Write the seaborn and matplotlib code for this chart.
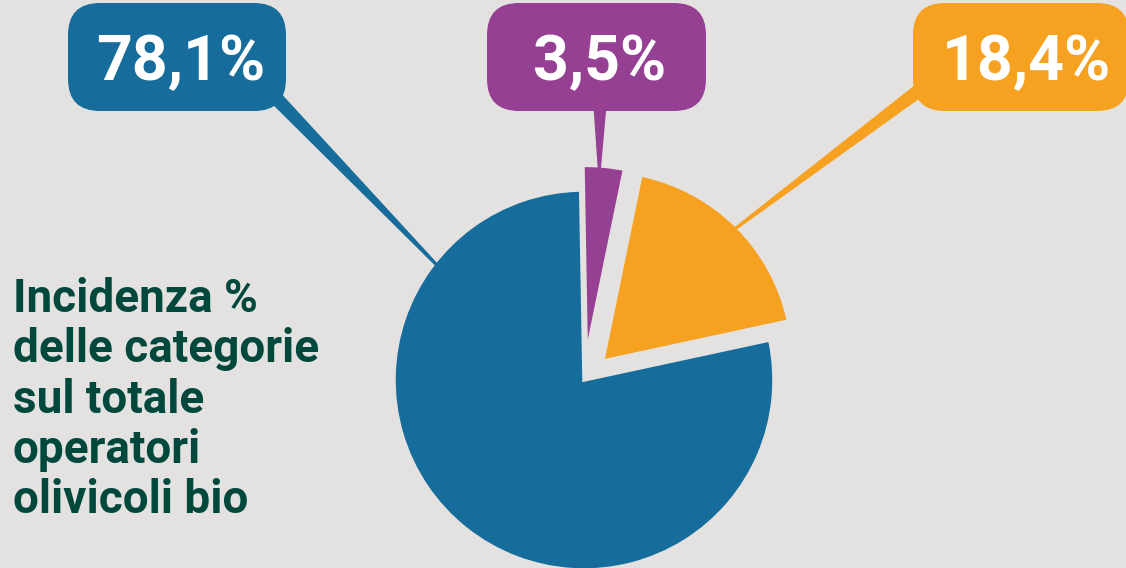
import numpy as np
import matplotlib
matplotlib.use("Agg")
import matplotlib.pyplot as plt
from matplotlib.patches import FancyBboxPatch
import seaborn as sns

# data
shares = [78.1, 18.4, 3.5]
share_labels = ["78,1%", "18,4%", "3,5%"]
slice_colors = ["#166c9b", "#f6a120", "#964094"]
title_lines = ["Incidenza %", "delle categorie", "sul totale", "operatori", "olivicoli bio"]

BG = "#e4e2e0"
GREEN = "#00483c"
W, H = 1126, 568

sns.set_theme(style="white")
plt.rcParams['font.family'] = ['Roboto', 'DejaVu Sans']

fig = plt.figure(figsize=(W / 100, H / 100), dpi=100)
fig.patch.set_facecolor(BG)
ax = fig.add_axes([0, 0, 1, 1])
ax.set_facecolor(BG)

R = 190
# explode is in data units when radius != 1
wedges, _ = ax.pie(shares, colors=slice_colors, startangle=91, counterclock=True,
                   explode=[0, 0.14 * R, 0.13 * R], radius=R, center=(584, H - 380),
                   wedgeprops=dict(linewidth=2.5, edgecolor=BG))

ax.set_xlim(0, W)
ax.set_ylim(0, H)
ax.set_aspect('equal')
ax.axis('off')

# label boxes (x0, top, width) in pixel coords from the top
boxes = [(68, 3, 218), (913, 3, 216), (487, 3, 219)]
text_x = [181, 1026, 600]
# where each pointer leaves its box and which angle on the slice it points to
bases = [(274, 96), (925, 86), (600, 100)]
tip_angles = [142, 45, 86]

for w, col, lab, (bx0, btop, bw), tx, (px, py), ang in zip(
        wedges, slice_colors, share_labels, boxes, text_x, bases, tip_angles):
    cx, cy = w.center
    r = w.r - 3
    tip = np.array([cx + r * np.cos(np.radians(ang)), cy + r * np.sin(np.radians(ang))])
    base = np.array([px, H - py])
    d = (tip - base) / np.linalg.norm(tip - base)
    n = np.array([-d[1], d[0]])
    poly = np.array([base + n * 7, tip + n * 1.6, tip - n * 1.6, base - n * 7])
    ax.fill(poly[:, 0], poly[:, 1], color=col, lw=0, zorder=3)

    box = FancyBboxPatch((bx0, H - btop - 108), bw, 108,
                         boxstyle="round,pad=0,rounding_size=32",
                         fc=col, ec="none", zorder=4)
    ax.add_patch(box)
    ax.text(tx, H - 80, lab, ha='center', va='baseline', color='white',
            fontsize=45, fontweight='bold', zorder=5)

for i, line in enumerate(title_lines):
    ax.text(13, H - 312 - 50.3 * i, line, ha='left', va='baseline',
            color=GREEN, fontsize=33, fontweight='bold')

fig.savefig("out.png", dpi=100, facecolor=BG)
